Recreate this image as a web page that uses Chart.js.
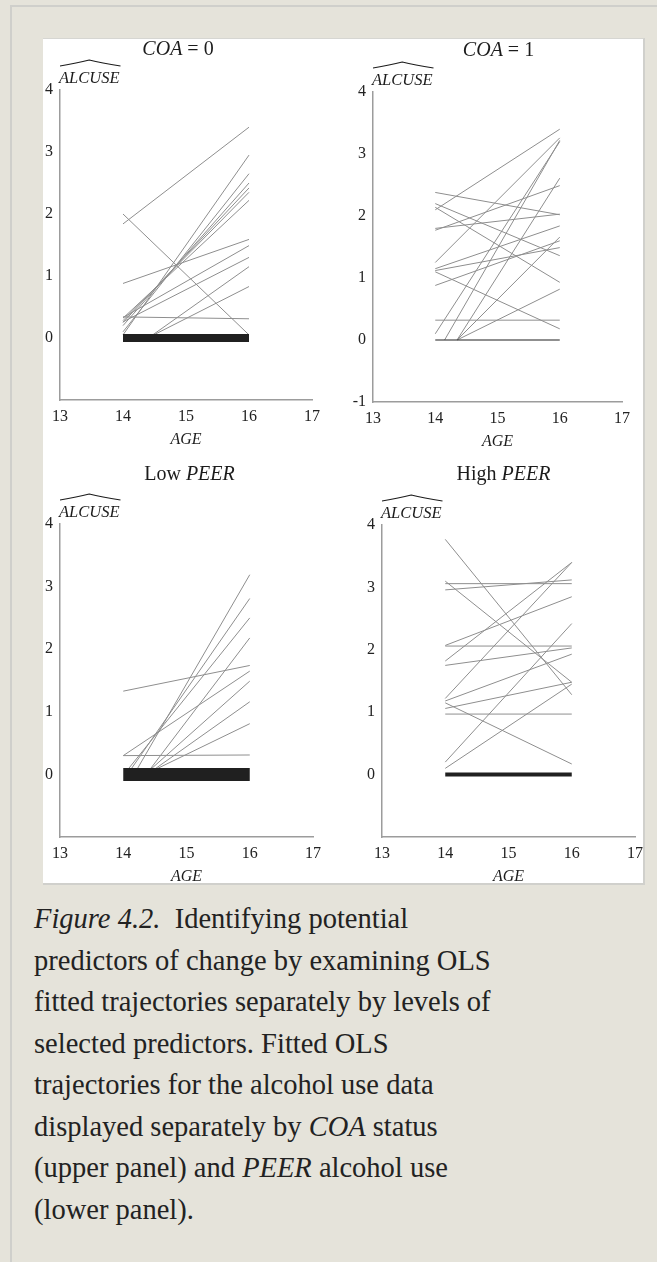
<!DOCTYPE html>
<html>
<head>
<meta charset="utf-8">
<script src="https://cdn.jsdelivr.net/npm/chart.js@4.4.1/dist/chart.umd.min.js"></script>
<style>
html, body { margin: 0; width: 657px; height: 1262px; overflow: hidden; background: #e5e3da; }
.frame { position: absolute; left: 10px; top: 5px; width: 700px; height: 1300px; border-top: 2px solid #cfcfcb; border-left: 2px solid #cfcfcb; }
.figure { position: absolute; left: 43px; top: 38px; width: 600px; height: 844px; background: #fff; border-top: 1px solid #d6d6d2; border-right: 2px solid #d0d0cc; border-bottom: 2px solid #d0d0cc; overflow: hidden; }
.panel { position: absolute; }
.caption { position: absolute; left: 34px; top: 898px; font-family: 'Liberation Serif', serif; font-size: 28.5px; line-height: 41.5px; color: #222; white-space: nowrap; }
</style>
</head>
<body>
<div class="frame"></div>
<div class="figure" id="figure"></div>
<div class="caption"><i>Figure 4.2.</i>&nbsp; Identifying potential<br>predictors of change by examining OLS<br>fitted trajectories separately by levels of<br>selected predictors. Fitted OLS<br>trajectories for the alcohol use data<br>displayed separately by <i>COA</i> status<br>(upper panel) and <i>PEER</i> alcohol use<br>(lower panel).</div>
<script>
// tick labels
const ageTicks = [13, 14, 15, 16, 17];
const alcTicks = [0, 1, 2, 3, 4];
const alcTicksWithMinus = [-1, 0, 1, 2, 3, 4];

// fitted trajectories: [age start, ALCUSE start, age end, ALCUSE end]
const coa0Lines = [
    [14, 1.84, 16, 3.40],
    [14, 2.00, 16, 0.05],
    [14, 0.05, 16, 2.95],
    [14, 0.10, 16, 2.65],
    [14, 0.20, 16, 2.50],
    [14, 0.25, 16, 2.42],
    [14, 0.28, 16, 2.35],
    [14, 0.32, 16, 2.22],
    [14, 0.88, 16, 1.59],
    [14, 0.33, 16, 1.49],
    [14, 0.26, 16, 1.30],
    [14.43, 0.02, 16, 1.15],
    [14.43, 0.02, 16, 0.83],
    [14, 0.34, 16, 0.31]
];
const coa1Lines = [
    [14, 2.10, 16, 3.40],
    [14, 2.38, 16, 2.02],
    [14, 2.20, 16, 1.36],
    [14, 2.14, 16, 0.93],
    [14, 1.77, 16, 2.49],
    [14, 1.80, 16, 2.03],
    [14, 1.25, 16, 3.26],
    [14, 1.15, 16, 1.84],
    [14, 1.10, 16, 0.18],
    [14, 0.88, 16, 1.60],
    [14, 1.12, 16, 1.49],
    [14, 0.10, 16, 3.20],
    [14.15, 0, 16, 3.22],
    [14.35, 0, 16, 2.61],
    [14.35, 0, 16, 1.66],
    [14.35, 0, 16, 0.82],
    [14, 0.32, 16, 0.32]
];
const lowPeerLines = [
    [14, 1.33, 16, 1.74],
    [14, 0.30, 16, 0.31],
    [14, 0.30, 16, 1.65],
    [14.05, 0.05, 16, 2.50],
    [14.1, 0.05, 16, 2.81],
    [14.2, 0.05, 16, 3.19],
    [14.4, 0.05, 16, 2.18],
    [14.4, 0.05, 16, 1.49],
    [14.45, 0.05, 16, 1.16],
    [14.45, 0.05, 16, 0.81]
];
const highPeerLines = [
    [14, 3.77, 16, 1.28],
    [14, 3.10, 16, 1.48],
    [14, 3.06, 16, 3.06],
    [14, 2.96, 16, 3.12],
    [14, 2.07, 16, 2.85],
    [14, 2.06, 16, 2.06],
    [14, 1.82, 16, 3.40],
    [14, 1.75, 16, 2.03],
    [14, 1.22, 16, 3.40],
    [14, 1.18, 16, 1.93],
    [14, 1.15, 16, 0.17],
    [14, 1.06, 16, 1.48],
    [14, 0.97, 16, 0.97],
    [14, 0.20, 16, 2.42],
    [14, 0.10, 16, 1.45]
];
// the many trajectories lying flat at zero
const zeroLine = [14, 0, 16, 0];

const coa0Title = [['COA', true], [' = 0', false]];
const coa1Title = [['COA', true], [' = 1', false]];
const lowPeerTitle = [['Low ', false], ['PEER', true]];
const highPeerTitle = [['High ', false], ['PEER', true]];

const SERIF = "'Liberation Serif', 'Times New Roman', serif";
const FIG_LEFT = 43, FIG_TOP = 38;
const PAD_TOP = 60, PAD_RIGHT = 20, Y_W = 30, X_H = 55;

const panelText = {
    id: 'panelText',
    afterDraw(chart, args, opts) {
        const { ctx, chartArea } = chart;
        const xs = chart.scales.x;
        ctx.save();
        ctx.fillStyle = '#1c1c1c';
        ctx.strokeStyle = '#1c1c1c';
        ctx.textBaseline = 'alphabetic';

        // panel title, mixed upright / italic
        const fonts = opts.title.map(s => (s[1] ? 'italic ' : '') + '20px ' + SERIF);
        let total = 0;
        opts.title.forEach((s, i) => { ctx.font = fonts[i]; total += ctx.measureText(s[0]).width; });
        let tx = xs.getPixelForValue(15) - total / 2 + (opts.titleShift || 0);
        const ty = chartArea.top - opts.titleGap;
        opts.title.forEach((s, i) => {
            ctx.font = fonts[i];
            ctx.textAlign = 'left';
            ctx.fillText(s[0], tx, ty);
            tx += ctx.measureText(s[0]).width;
        });

        // ALCUSE with a wide hat
        ctx.font = 'italic 16.5px ' + SERIF;
        const ax = chartArea.left - 1, ay = chartArea.top - 7;
        ctx.fillText('ALCUSE', ax, ay);
        const w = ctx.measureText('ALCUSE').width;
        ctx.lineWidth = 1.2;
        ctx.beginPath();
        ctx.moveTo(ax + 1, ay - 17);
        ctx.quadraticCurveTo(ax + w * 0.3, ay - 20, ax + w / 2, ay - 23);
        ctx.quadraticCurveTo(ax + w * 0.7, ay - 20, ax + w + 1, ay - 17);
        ctx.stroke();

        // AGE
        ctx.font = 'italic 16px ' + SERIF;
        ctx.textAlign = 'center';
        ctx.textBaseline = 'middle';
        ctx.fillText('AGE', xs.getPixelForValue(15), chartArea.bottom + 40);
        ctx.restore();
    }
};

function toDataset(seg, color, width) {
    return {
        data: [{ x: seg[0], y: seg[1] }, { x: seg[2], y: seg[3] }],
        borderColor: color,
        borderWidth: width,
        borderCapStyle: 'butt',
        pointRadius: 0,
        fill: false
    };
}

function makePanel(p) {
    const div = document.createElement('div');
    div.className = 'panel';
    const w = p.axisRight - p.axisLeft + Y_W + PAD_RIGHT;
    const h = p.axisBottom - p.axisTop + PAD_TOP + X_H;
    div.style.left = (p.axisLeft - Y_W - FIG_LEFT) + 'px';
    div.style.top = (p.axisTop - PAD_TOP - FIG_TOP) + 'px';
    div.style.width = w + 'px';
    div.style.height = h + 'px';
    const canvas = document.createElement('canvas');
    canvas.width = w;
    canvas.height = h;
    div.appendChild(canvas);
    document.getElementById('figure').appendChild(div);

    const datasets = [toDataset(zeroLine, '#202020', p.zeroWidth)]
        .concat(p.lines.map(l => toDataset(l, '#8e8e8e', 1)));

    new Chart(canvas, {
        type: 'line',
        data: { datasets },
        plugins: [panelText],
        options: {
            responsive: false,
            animation: false,
            devicePixelRatio: 1,
            layout: { padding: { top: PAD_TOP, right: PAD_RIGHT, left: 0, bottom: 0 } },
            plugins: {
                legend: { display: false },
                tooltip: { enabled: false },
                panelText: { title: p.title, titleGap: p.titleGap, titleShift: p.titleShift }
            },
            scales: {
                x: {
                    type: 'linear', min: 13, max: 17,
                    grid: { display: false, drawTicks: false },
                    border: { display: true, color: '#9c9c9c', width: 1.5 },
                    ticks: { color: '#222', font: { family: SERIF, size: 16 }, padding: 7, maxRotation: 0, autoSkip: false },
                    afterBuildTicks: s => { s.ticks = ageTicks.map(v => ({ value: v })); },
                    afterFit: s => { s.height = X_H; }
                },
                y: {
                    type: 'linear', min: -1, max: 4,
                    grid: { display: false, drawTicks: false },
                    border: { display: true, color: '#9c9c9c', width: 1.5 },
                    ticks: { color: '#222', font: { family: SERIF, size: 16 }, padding: 7 },
                    afterBuildTicks: s => { s.ticks = p.yTicks.map(v => ({ value: v })); },
                    afterFit: s => { s.width = Y_W; }
                }
            }
        }
    });
}

makePanel({ lines: coa0Lines, yTicks: alcTicks, title: coa0Title, zeroWidth: 8,
    axisLeft: 60, axisRight: 312, axisTop: 89, axisBottom: 399, titleGap: 35, titleShift: -8 });
makePanel({ lines: coa1Lines, yTicks: alcTicksWithMinus, title: coa1Title, zeroWidth: 1.2,
    axisLeft: 373, axisRight: 622, axisTop: 91, axisBottom: 401, titleGap: 36, titleShift: 1 });
makePanel({ lines: lowPeerLines, yTicks: alcTicks, title: lowPeerTitle, zeroWidth: 13,
    axisLeft: 60, axisRight: 313, axisTop: 523, axisBottom: 836, titleGap: 44, titleShift: 3 });
makePanel({ lines: highPeerLines, yTicks: alcTicks, title: highPeerTitle, zeroWidth: 4,
    axisLeft: 382, axisRight: 635, axisTop: 524, axisBottom: 836, titleGap: 45, titleShift: -5 });
</script>
</body>
</html>
